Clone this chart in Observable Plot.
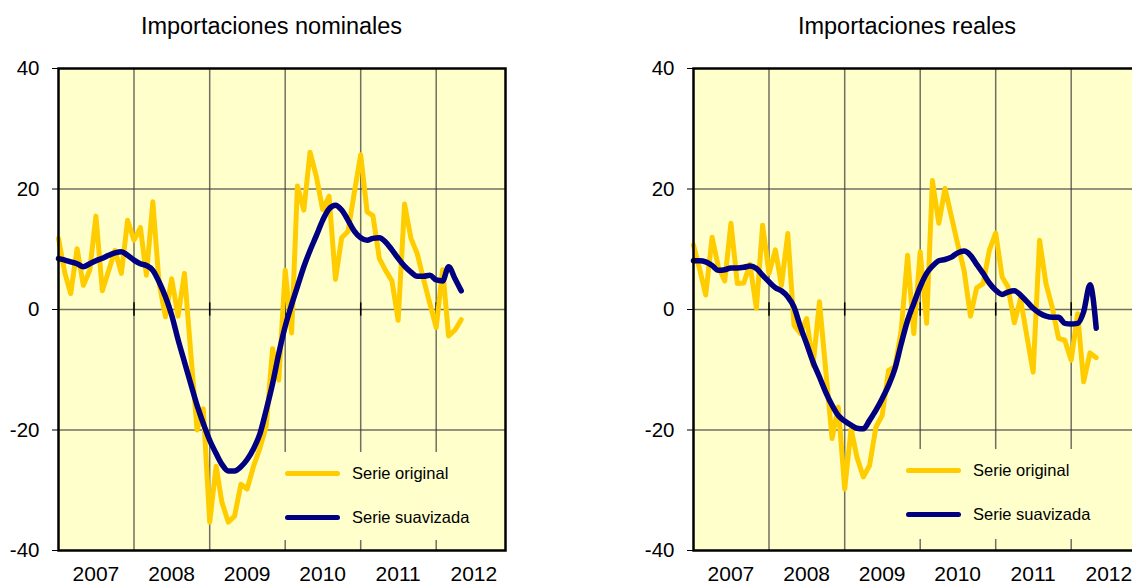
<!DOCTYPE html>
<html>
<head>
<meta charset="utf-8">
<script src="https://cdn.jsdelivr.net/npm/d3@7"></script>
<script src="https://cdn.jsdelivr.net/npm/@observablehq/plot@0.6"></script>
<style>
  html, body { margin: 0; padding: 0; width: 1132px; height: 584px; overflow: hidden; background: #fff; }
  body { position: relative; font-family: "Liberation Sans", Arial, sans-serif; }
  .panel { position: absolute; top: 0; height: 584px; }
  .panel svg { max-width: none !important; display: block; }
  .title { position: absolute; top: 15px; font-size: 23.5px; line-height: 23.5px; white-space: nowrap; transform: translateX(-50%); color: #000; z-index: 2; }
  .legend { position: absolute; background: #FFFFCC; z-index: 2; }
  .swatch { position: absolute; width: 55px; height: 5px; border-radius: 2.5px; }
  .ltext { position: absolute; font-size: 16.5px; line-height: 16.5px; white-space: nowrap; color: #000; }
</style>
</head>
<body>
<div class="title" style="left:271.5px">Importaciones nominales</div>
<div class="title" style="left:907px">Importaciones reales</div>
<div id="left" class="panel" style="left:0px; width:566px"></div>
<div id="right" class="panel" style="left:566px; width:640px"></div>
<script>
// Monthly data, January 2007 – May 2012 (65 months)
const startYear = 2007;
const nMonths = 65;
const months = d3.range(nMonths).map(i => new Date(Date.UTC(startYear, i, 1)));

const nominalOriginal = [
  11.8, 6.0, 2.65, 10.1, 4.0, 6.5, 15.5, 3.1, 6.5, 9.8, 6.0, 14.8,
  11.5, 13.6, 5.7, 17.9, 4.5, -1.2, 5.1, -1.1, 6.0, -7.0, -20.0, -16.5,
  -35.3, -26.0, -32.0, -35.3, -34.3, -29.0, -29.8, -26.0, -23.0, -19.4, -6.5, -11.7,
  6.5, -3.9, 20.5, 16.5, 26.1, 22.0, 16.6, 18.8, 5.0, 11.9, 13.0, 19.4,
  25.7, 16.2, 15.6, 8.5, 6.5, 4.75, -1.8, 17.5, 11.8, 9.3, 5.0, 1.0,
  -3.0, 6.6, -4.4, -3.4, -1.7
];
const nominalSmoothed = [
  8.45, 8.2, 7.9, 7.6, 7.1, 7.6, 8.1, 8.5, 9.0, 9.4, 9.6, 9.0,
  8.2, 7.6, 7.3, 6.5, 4.6, 2.1, -0.9, -5.0, -8.7, -12.3, -15.9, -18.9,
  -21.7, -23.9, -25.7, -26.8, -26.8, -26.1, -24.9, -23.1, -20.6, -16.7, -12.3, -7.3,
  -2.8, 0.8, 3.8, 7.1, 9.8, 12.3, 14.8, 16.7, 17.3, 16.5, 14.8, 13.0,
  11.9, 11.5, 11.8, 11.9, 11.2, 9.9, 8.5, 7.2, 6.2, 5.5, 5.5, 5.7,
  4.9, 4.75, 7.1, 5.1, 3.1
];
const realOriginal = [
  10.7, 6.5, 2.4, 12.0, 7.1, 4.75, 14.3, 4.3, 4.4, 7.5, 0.2, 14.0,
  6.0, 9.9, 4.0, 12.6, -2.6, -4.0, -1.5, -9.3, 1.3, -10.0, -21.4, -16.2,
  -29.8, -19.8, -24.5, -27.8, -25.9, -19.5, -17.6, -10.1, -9.5, -3.5, 9.0, -4.0,
  9.6, -2.3, 21.4, 14.3, 20.1, 15.4, 10.9, 6.5, -1.1, 3.6, 4.3, 9.8,
  12.7, 5.4, 3.8, -2.2, 1.8, -4.5, -10.4, 11.5, 4.3, 0.4, -4.8, -5.1,
  -8.4, -0.7, -12.0, -7.2, -8.0
];
const realSmoothed = [
  8.1, 8.1, 7.9, 7.3, 6.5, 6.6, 6.9, 6.9, 7.0, 7.2, 6.8, 5.7,
  4.6, 3.6, 3.1, 2.1, 0.4, -2.9, -5.7, -8.7, -11.2, -13.7, -15.9, -17.6,
  -18.5, -19.2, -19.7, -19.8, -18.4, -16.7, -14.8, -12.6, -9.8, -5.7, -1.8, 1.0,
  3.8, 6.0, 7.2, 8.1, 8.3, 8.7, 9.4, 9.7, 9.0, 7.5, 6.0, 4.4,
  3.2, 2.5, 2.9, 3.1, 2.4, 1.3, 0.2, -0.6, -1.1, -1.3, -1.3, -2.3,
  -2.4, -2.3, -0.4, 4.1, -3.1
];

const yTicks = [-40, -20, 0, 20, 40];
const yGrid = [-20, 0, 20];
const yearLabels = [2007, 2008, 2009, 2010, 2011, 2012];
const gridYears = [2008, 2009, 2010, 2011, 2012];
const legendLabels = ["Serie original", "Serie suavizada"];
const colors = { original: "#FFCC00", smoothed: "#000080", panel: "#FFFFCC" };

function panel(orig, smooth, width, marginLeft, marginRight) {
  const data = months.map((d, i) => ({ date: d, orig: orig[i], smooth: smooth[i] }));
  const gridDates = gridYears.map(y => new Date(Date.UTC(y, 0, 1)));
  const labelDates = yearLabels.map(y => new Date(Date.UTC(y, 6, 1)));
  return Plot.plot({
    width, height: 584,
    marginTop: 68, marginBottom: 34, marginLeft, marginRight,
    style: { fontFamily: "'Liberation Sans', Arial, sans-serif", background: "transparent", color: "#000", overflow: "visible", maxWidth: "none" },
    x: { type: "utc", domain: [new Date(Date.UTC(2007, 0, 1)), new Date(Date.UTC(2012, 11, 1))], label: null },
    y: { domain: [-40, 40], label: null },
    marks: [
      Plot.frame({ fill: colors.panel }),
      Plot.ruleY(yGrid, { stroke: "#333", strokeOpacity: 0.7, strokeWidth: 1.5 }),
      Plot.ruleX(gridDates, { stroke: "#333", strokeOpacity: 0.7, strokeWidth: 1.5 }),
      Plot.ruleX(gridDates, { y1: -1.1, y2: 1.1, stroke: "#000", strokeWidth: 1.5 }),
      Plot.axisY({ ticks: yTicks, tickSize: 6, tickPadding: 13, tickFormat: d => String(d), fontSize: 20.5, stroke: "#000" }),
      Plot.axisX({ ticks: labelDates, tickSize: 0, tickPadding: 16, tickFormat: d => String(d.getUTCFullYear()), fontSize: 21 }),
      Plot.line(data, { x: "date", y: "orig", stroke: colors.original, strokeWidth: 5, strokeLinejoin: "round", strokeLinecap: "round" }),
      Plot.line(data, { x: "date", y: "smooth", stroke: colors.smoothed, strokeWidth: 5.5, curve: "monotone-x", strokeLinejoin: "round", strokeLinecap: "round" }),
      Plot.frame({ stroke: "#000", strokeWidth: 2.5 })
    ]
  });
}

document.getElementById("left").append(panel(nominalOriginal, nominalSmoothed, 566, 58, 61));
document.getElementById("right").append(panel(realOriginal, realSmoothed, 640, 127, 66));

function legend(left, top, width, height) {
  const box = document.createElement("div");
  box.className = "legend";
  Object.assign(box.style, { left: left + "px", top: top + "px", width: width + "px", height: height + "px" });
  const rows = [
    { label: legendLabels[0], color: colors.original, cy: 21.5 },
    { label: legendLabels[1], color: colors.smoothed, cy: 65.5 }
  ];
  rows.forEach(r => {
    const sw = document.createElement("div");
    sw.className = "swatch";
    Object.assign(sw.style, { left: "7.5px", top: (r.cy - 2.5) + "px", background: r.color });
    const tx = document.createElement("div");
    tx.className = "ltext";
    tx.textContent = r.label;
    Object.assign(tx.style, { left: "75px", top: (r.cy - 8.1) + "px" });
    box.append(sw, tx);
  });
  document.body.append(box);
}
legend(277, 452, 226, 88);
legend(898, 449, 240, 90);
</script>
</body>
</html>
